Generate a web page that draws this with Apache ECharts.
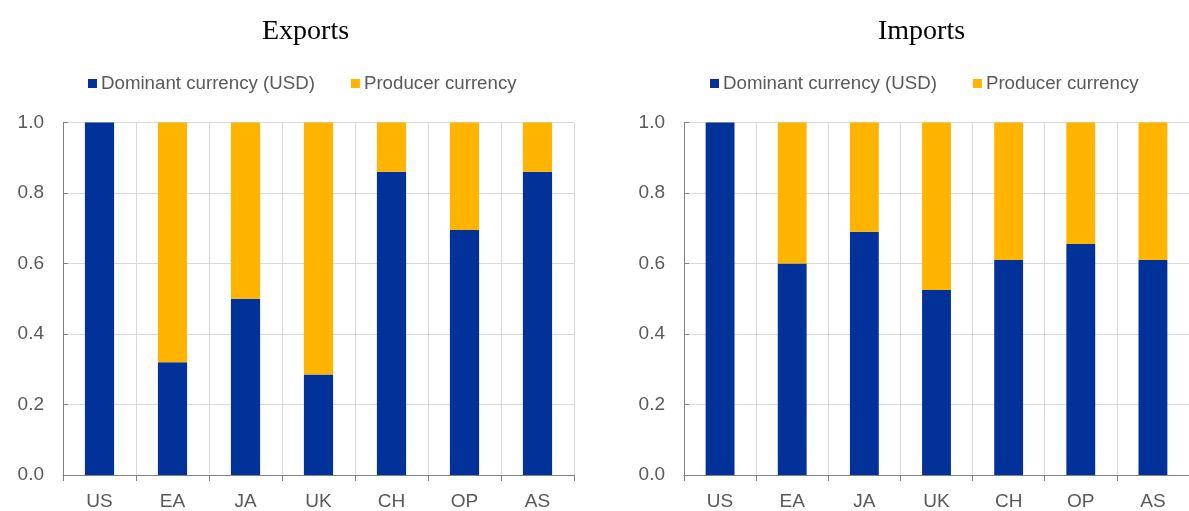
<!DOCTYPE html>
<html>
<head>
<meta charset="utf-8">
<script src="https://cdn.jsdelivr.net/npm/echarts@6/dist/echarts.min.js"></script>
<style>
  html, body { margin: 0; padding: 0; background: #fff; }
  #chart { width: 1189px; height: 511px; }
</style>
</head>
<body>
<div id="chart"></div>
<script>
// data
const categories = ['US', 'EA', 'JA', 'UK', 'CH', 'OP', 'AS'];
const exportsDominant = [1.0, 0.32, 0.50, 0.285, 0.86, 0.695, 0.86];
const exportsProducer = [0.0, 0.68, 0.50, 0.715, 0.14, 0.305, 0.14];
const importsDominant = [1.0, 0.60, 0.69, 0.525, 0.61, 0.655, 0.61];
const importsProducer = [0.0, 0.40, 0.31, 0.475, 0.39, 0.345, 0.39];
const yTicks = [0, 0.2, 0.4, 0.6, 0.8, 1.0];

const BLUE = '#003299';
const YELLOW = '#ffb400';
const TXT = '#595959';

const chart = echarts.init(document.getElementById('chart'));

const makeX = (gi) => ({
    type: 'category',
    gridIndex: gi,
    data: categories,
    axisLine: { lineStyle: { color: '#808080' } },
    axisTick: { show: true, length: 6, lineStyle: { color: '#808080' } },
    axisLabel: { color: TXT, fontSize: 19, fontFamily: 'Liberation Sans', margin: 17 },
    splitLine: { show: true, lineStyle: { color: '#d9d9d9' } }
});

const makeY = (gi) => ({
    type: 'value',
    gridIndex: gi,
    min: yTicks[0],
    max: yTicks[yTicks.length - 1],
    interval: 0.2,
    axisLine: { show: true, lineStyle: { color: '#808080' } },
    axisTick: { show: true, inside: true, length: 5, lineStyle: { color: '#808080' } },
    axisLabel: {
        color: TXT, fontSize: 19, fontFamily: 'Liberation Sans', margin: 19,
        formatter: (v) => v.toFixed(1)
    },
    splitLine: { show: true, lineStyle: { color: '#d9d9d9' } }
});

const legendStyle = {
    icon: 'rect',
    itemWidth: 9,
    itemHeight: 9,
    itemGap: 36,
    padding: 0,
    top: 74,
    textStyle: { color: TXT, fontSize: 18.7, fontFamily: 'Liberation Sans', padding: [0, 0, 0, -1] },
    data: ['Dominant currency (USD)', 'Producer currency']
};

const bar = (name, data, idx, stack, color) => ({
    name: name,
    type: 'bar',
    stack: stack,
    xAxisIndex: idx,
    yAxisIndex: idx,
    barWidth: '40%',
    itemStyle: { color: color },
    data: data
});

const titleFont = { fontFamily: 'Liberation Serif', fontSize: 28, fontWeight: 'normal', color: '#000' };

const option = {
    animation: false,
    title: [
        { text: 'Exports', left: 257, top: 13, textStyle: titleFont },
        { text: 'Imports', left: 873, top: 13, textStyle: titleFont }
    ],
    legend: [
        Object.assign({ left: 88 }, legendStyle),
        Object.assign({ left: 710 }, legendStyle)
    ],
    grid: [
        { left: 63, top: 122.5, width: 511, height: 357.5 },
        { left: 684, top: 122.5, width: 513, height: 357.5 }
    ],
    xAxis: [makeX(0), makeX(1)],
    yAxis: [makeY(0), makeY(1)],
    series: [
        bar('Dominant currency (USD)', exportsDominant, 0, 'exp', BLUE),
        bar('Producer currency', exportsProducer, 0, 'exp', YELLOW),
        bar('Dominant currency (USD)', importsDominant, 1, 'imp', BLUE),
        bar('Producer currency', importsProducer, 1, 'imp', YELLOW)
    ]
};

chart.setOption(option);
</script>
</body>
</html>
